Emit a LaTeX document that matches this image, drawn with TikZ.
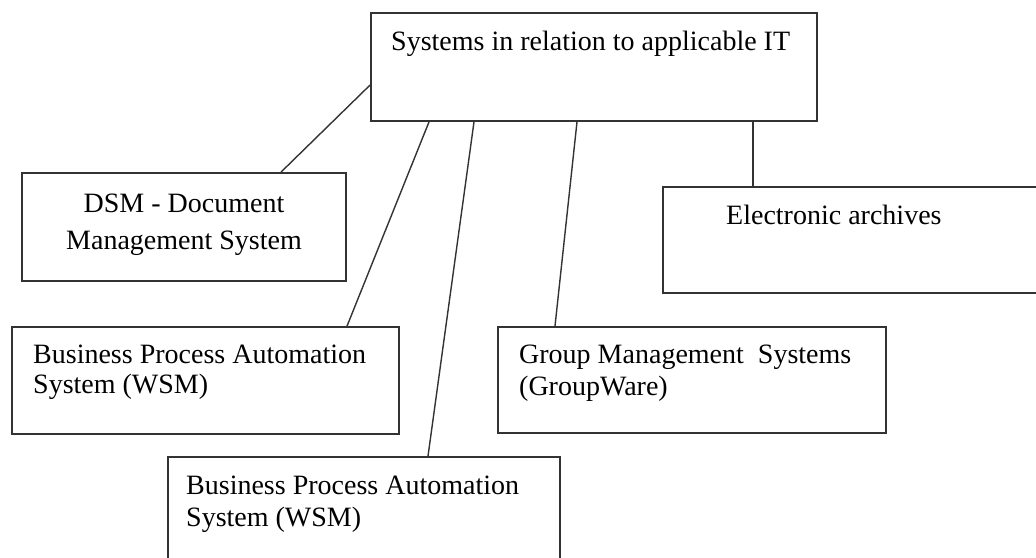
\documentclass[tikz,border=0pt]{standalone}
\usepackage{fontspec}
\setmainfont{Liberation Serif}
\usetikzlibrary{calc}
\tikzset{
  box/.style={draw=black!80, line width=1.8pt, rectangle, inner sep=0pt, fill=none},
  conn/.style={draw=black!80, line width=1.4pt},
  lbl/.style={inner sep=0pt, font=\fontsize{28}{33}\selectfont, text=black}
}
\begin{document}
\begin{tikzpicture}[x=1pt,y=-1pt]
\useasboundingbox (0,0) rectangle (1036,557);
\fill[white] (0,0) rectangle (1036,557);
% boxes
\node[box, minimum width=446pt, minimum height=108pt] (top) at (594,67) {};
\node[box, minimum width=324pt, minimum height=108pt] (dsm) at (184,227) {};
\node[box, minimum width=387pt, minimum height=107pt] (bpa1) at (205.5,380.5) {};
\node[box, minimum width=392pt, minimum height=107pt] (bpa2) at (364,510.5) {};
\node[box, minimum width=388pt, minimum height=106pt] (group) at (692,380) {};
\node[box, minimum width=437pt, minimum height=106pt] (elec) at (881.5,240) {};
% texts
\node[lbl, anchor=base west] (topT) at (391,50) {Systems in relation to applicable IT};
\node[lbl, anchor=base] (dsmA) at (184,212) {DSM - Document};
\node[lbl, anchor=base] (dsmB) at (184,249) {Management System};
\node[lbl, anchor=base west] (bpa1A) at (33,363) {Business Process Automation};
\node[lbl, anchor=base west] (bpa1B) at (33,393) {System (WSM)};
\node[lbl, anchor=base west] (bpa2A) at (186,494) {Business Process Automation};
\node[lbl, anchor=base west] (bpa2B) at (186,526) {System (WSM)};
\node[lbl, anchor=base west] (groupA) at (519,363) {Group Management\ \ Systems};
\node[lbl, anchor=base west] (groupB) at (519,395) {(GroupWare)};
\node[lbl, anchor=base west] (elecT) at (726,224) {Electronic archives};
% connectors
\draw[conn] ([yshift=-18pt]top.west) -- ([xshift=97pt]dsm.north);
\draw[conn] ([xshift=-165pt]top.south) -- ([xshift=141.5pt]bpa1.north);
\draw[conn] ([xshift=-120pt]top.south) -- ([xshift=64pt]bpa2.north);
\draw[conn] ([xshift=-17pt]top.south) -- ([xshift=-137pt]group.north);
\draw[conn] ([xshift=159pt]top.south) -- ([xshift=-128.5pt]elec.north);
\end{tikzpicture}
\end{document}
